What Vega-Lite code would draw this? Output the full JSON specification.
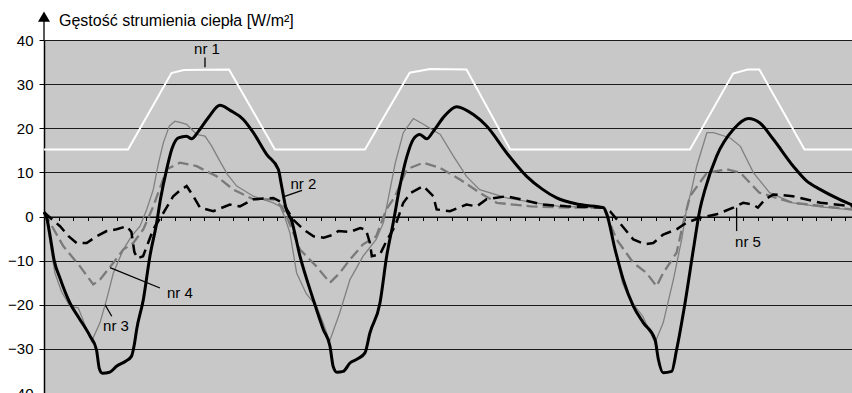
{
  "$schema": "https://vega.github.io/schema/vega-lite/v6.json",
  "width": 808,
  "height": 353,
  "autosize": {"type": "none"},
  "padding": {"left": 44, "top": 40, "right": 0, "bottom": 0},
  "background": "white",
  "config": {
    "view": {"fill": "#c8c8c8", "stroke": null},
    "font": "Liberation Sans",
    "text": {"font": "Liberation Sans", "fontSize": 15, "color": "black"}
  },
  "datasets": {
    "s1": [
      {"t": 0, "v": 15.2}, {"t": 5.77, "v": 15.2}, {"t": 8.75, "v": 32.5}, {"t": 9.6, "v": 33.2}, {"t": 12.7, "v": 33.3}, {"t": 15.85, "v": 15.2},
      {"t": 22.03, "v": 15.2}, {"t": 25.1, "v": 32.6}, {"t": 26.5, "v": 33.4}, {"t": 29.0, "v": 33.3}, {"t": 32.0, "v": 15.2},
      {"t": 44.34, "v": 15.2}, {"t": 47.3, "v": 32.4}, {"t": 48.3, "v": 33.3}, {"t": 49.1, "v": 33.3}, {"t": 52.2, "v": 15.2}, {"t": 55.5, "v": 15.2}
    ],
    "s2": [
      {"t": 0, "v": 1.0}, {"t": 0.2, "v": -0.5}, {"t": 0.4, "v": -4}, {"t": 0.7, "v": -10}, {"t": 1.1, "v": -14}, {"t": 1.78, "v": -19.6}, {"t": 2.4, "v": -23}, {"t": 3.16, "v": -27.1}, {"t": 3.6, "v": -30.2}, {"t": 3.8, "v": -34.5}, {"t": 4.0, "v": -35.5}, {"t": 4.5, "v": -35.3}, {"t": 5.0, "v": -33.9}, {"t": 5.6, "v": -32.8}, {"t": 6.0, "v": -31.7}, {"t": 6.2, "v": -29}, {"t": 6.36, "v": -25.6}, {"t": 6.82, "v": -18.8}, {"t": 7.27, "v": -9.0}, {"t": 7.73, "v": -1.5}, {"t": 8.0, "v": 4}, {"t": 8.42, "v": 10.7}, {"t": 8.8, "v": 15.5}, {"t": 9.22, "v": 17.8}, {"t": 9.79, "v": 18.2}, {"t": 10.13, "v": 17.6}, {"t": 10.6, "v": 19.3}, {"t": 11.3, "v": 22.5}, {"t": 12.08, "v": 25.2}, {"t": 12.8, "v": 24.0}, {"t": 13.68, "v": 22.0}, {"t": 14.37, "v": 19.0}, {"t": 15.28, "v": 14.1}, {"t": 16.08, "v": 10.7}, {"t": 16.31, "v": 6.9}, {"t": 16.6, "v": 2}, {"t": 17.0, "v": -1}, {"t": 17.57, "v": -9.0}, {"t": 18.48, "v": -18.8}, {"t": 19.17, "v": -25.6}, {"t": 19.63, "v": -29.4}, {"t": 19.85, "v": -34}, {"t": 20.1, "v": -35.3}, {"t": 20.54, "v": -35.1}, {"t": 21.0, "v": -33.2}, {"t": 21.5, "v": -32.3}, {"t": 22.03, "v": -30.9}, {"t": 22.37, "v": -26.4}, {"t": 23.06, "v": -19.6}, {"t": 23.52, "v": -9.0}, {"t": 23.97, "v": -1.4}, {"t": 24.43, "v": 6.9}, {"t": 24.9, "v": 13.5}, {"t": 25.35, "v": 17.5}, {"t": 25.8, "v": 18.6}, {"t": 26.27, "v": 17.6}, {"t": 26.72, "v": 19.3}, {"t": 27.5, "v": 22.8}, {"t": 28.32, "v": 24.9}, {"t": 29.47, "v": 23.1}, {"t": 30.38, "v": 20.5}, {"t": 31.76, "v": 14.4}, {"t": 33.13, "v": 9.1}, {"t": 34.2, "v": 6.2}, {"t": 35.19, "v": 4.2}, {"t": 36.8, "v": 2.7}, {"t": 38.4, "v": 2.0}, {"t": 38.6, "v": 0.8}, {"t": 39.2, "v": -7.5}, {"t": 39.76, "v": -14.3}, {"t": 40.45, "v": -20.3}, {"t": 41.14, "v": -24.1}, {"t": 41.94, "v": -27.9}, {"t": 42.17, "v": -32.4}, {"t": 42.5, "v": -35.4}, {"t": 43.08, "v": -35.1}, {"t": 43.42, "v": -30.2}, {"t": 44.0, "v": -19.6}, {"t": 44.57, "v": -7.5}, {"t": 45.02, "v": 1.6}, {"t": 45.37, "v": 6.1}, {"t": 46.17, "v": 13.7}, {"t": 47.31, "v": 19.7}, {"t": 48.34, "v": 22.2}, {"t": 49.14, "v": 21.2}, {"t": 50.06, "v": 17.5}, {"t": 51.43, "v": 11.4}, {"t": 52.3, "v": 8.2}, {"t": 53.3, "v": 6.1}, {"t": 54.6, "v": 3.9}, {"t": 55.5, "v": 2.6}
    ],
    "s3": [
      {"t": 0, "v": 1.0}, {"t": 0.2, "v": -1.4}, {"t": 0.75, "v": -12.8}, {"t": 1.2, "v": -17}, {"t": 1.78, "v": -20.3}, {"t": 2.35, "v": -20.7}, {"t": 2.8, "v": -24.5}, {"t": 3.27, "v": -28.3}, {"t": 3.84, "v": -24.1}, {"t": 4.3, "v": -18.8}, {"t": 4.76, "v": -12.8}, {"t": 5.44, "v": -7.5}, {"t": 6.0, "v": -4.5}, {"t": 6.59, "v": -2.2}, {"t": 7.05, "v": 1.6}, {"t": 7.5, "v": 6.1}, {"t": 7.85, "v": 12}, {"t": 8.19, "v": 16.7}, {"t": 8.6, "v": 20.5}, {"t": 8.99, "v": 21.6}, {"t": 9.4, "v": 21.3}, {"t": 9.79, "v": 20.9}, {"t": 10.48, "v": 18.6}, {"t": 11.05, "v": 18.2}, {"t": 11.5, "v": 16}, {"t": 12.08, "v": 12.5}, {"t": 12.6, "v": 9.5}, {"t": 13.23, "v": 6.9}, {"t": 14.37, "v": 4.6}, {"t": 15.74, "v": 3.1}, {"t": 16.2, "v": 2.3}, {"t": 16.54, "v": -0.3}, {"t": 16.88, "v": -3.7}, {"t": 17.34, "v": -12.8}, {"t": 18.0, "v": -17.5}, {"t": 18.7, "v": -20.3}, {"t": 19.15, "v": -24}, {"t": 19.6, "v": -28.3}, {"t": 20.3, "v": -21.8}, {"t": 21.0, "v": -14.3}, {"t": 21.9, "v": -9.0}, {"t": 22.8, "v": -5.2}, {"t": 23.3, "v": -1.4}, {"t": 23.75, "v": 6.1}, {"t": 24.1, "v": 12}, {"t": 24.66, "v": 19.0}, {"t": 25.35, "v": 22.2}, {"t": 26.04, "v": 20.9}, {"t": 27.2, "v": 18.6}, {"t": 28.1, "v": 13.7}, {"t": 29.0, "v": 9.1}, {"t": 29.9, "v": 6.1}, {"t": 31.76, "v": 4.2}, {"t": 33.5, "v": 3.2}, {"t": 35.4, "v": 2.3}, {"t": 38.4, "v": 2.0}, {"t": 38.7, "v": 0.5}, {"t": 39.3, "v": -9}, {"t": 39.7, "v": -15}, {"t": 40.2, "v": -18.8}, {"t": 41.1, "v": -22.6}, {"t": 41.94, "v": -28.6}, {"t": 42.5, "v": -24.1}, {"t": 43.2, "v": -14.3}, {"t": 43.77, "v": -5.2}, {"t": 44.1, "v": 1.6}, {"t": 44.45, "v": 6.1}, {"t": 44.8, "v": 11.4}, {"t": 45.5, "v": 19.0}, {"t": 45.96, "v": 19.0}, {"t": 47.1, "v": 17.8}, {"t": 47.8, "v": 15.9}, {"t": 48.7, "v": 9.9}, {"t": 49.8, "v": 5.4}, {"t": 51.4, "v": 3.1}, {"t": 53.3, "v": 2.2}, {"t": 55.5, "v": 1.5}
    ],
    "s4": [
      {"t": 0, "v": 1.0}, {"t": 0.41, "v": -1.4}, {"t": 1.32, "v": -6.7}, {"t": 2.47, "v": -11.3}, {"t": 3.38, "v": -15.4}, {"t": 3.84, "v": -14.3}, {"t": 4.76, "v": -10.5}, {"t": 5.44, "v": -7.5}, {"t": 6.13, "v": -6.0}, {"t": 6.82, "v": -2.9}, {"t": 7.5, "v": 2.3}, {"t": 7.8, "v": 5}, {"t": 8.42, "v": 10.7}, {"t": 9.33, "v": 12.2}, {"t": 10.48, "v": 11.4}, {"t": 11.85, "v": 9.1}, {"t": 13.0, "v": 6.1}, {"t": 14.37, "v": 3.9}, {"t": 15.74, "v": 3.9}, {"t": 16.31, "v": 2.3}, {"t": 16.65, "v": 0.1}, {"t": 17.57, "v": -7.5}, {"t": 18.7, "v": -11.3}, {"t": 19.63, "v": -15.0}, {"t": 20.3, "v": -12.8}, {"t": 21.0, "v": -9.75}, {"t": 21.9, "v": -6.3}, {"t": 22.8, "v": -4.5}, {"t": 23.5, "v": 1.6}, {"t": 24.1, "v": 4.6}, {"t": 24.9, "v": 10.7}, {"t": 26.04, "v": 12.2}, {"t": 27.2, "v": 11.0}, {"t": 28.55, "v": 8.4}, {"t": 29.9, "v": 5.4}, {"t": 31.07, "v": 3.1}, {"t": 33.4, "v": 2.3}, {"t": 36.3, "v": 2.0}, {"t": 38.4, "v": 2.0}, {"t": 39.3, "v": -5.2}, {"t": 40.45, "v": -10.5}, {"t": 41.36, "v": -12.8}, {"t": 42.05, "v": -15.8}, {"t": 42.5, "v": -12.8}, {"t": 43.42, "v": -8.2}, {"t": 43.88, "v": -1.4}, {"t": 44.34, "v": 4.6}, {"t": 45.5, "v": 9.9}, {"t": 46.86, "v": 10.7}, {"t": 47.8, "v": 9.9}, {"t": 49.1, "v": 5.4}, {"t": 51.4, "v": 3.1}, {"t": 55.5, "v": 1.6}
    ],
    "s5": [
      {"t": 0, "v": 1.0}, {"t": 0.5, "v": -0.5}, {"t": 1.1, "v": -2.2}, {"t": 1.7, "v": -4.5}, {"t": 2.24, "v": -6.0}, {"t": 2.93, "v": -6.0}, {"t": 3.6, "v": -4.5}, {"t": 4.3, "v": -3.3}, {"t": 4.99, "v": -2.9}, {"t": 5.67, "v": -2.2}, {"t": 6.0, "v": -3.5}, {"t": 6.2, "v": -8}, {"t": 6.4, "v": -9.5}, {"t": 6.8, "v": -9.0}, {"t": 7.5, "v": -2.9}, {"t": 8.19, "v": 0.8}, {"t": 8.87, "v": 4.6}, {"t": 9.3, "v": 5.8}, {"t": 9.79, "v": 6.9}, {"t": 10.25, "v": 4.6}, {"t": 10.71, "v": 2.0}, {"t": 11.62, "v": 1.2}, {"t": 12.76, "v": 2.7}, {"t": 13.45, "v": 2.3}, {"t": 14.37, "v": 3.9}, {"t": 15.74, "v": 4.2}, {"t": 16.4, "v": 3.1}, {"t": 17.1, "v": -0.7}, {"t": 17.8, "v": -2.9}, {"t": 18.5, "v": -4.5}, {"t": 19.2, "v": -4.8}, {"t": 19.8, "v": -4.2}, {"t": 20.2, "v": -3.3}, {"t": 21.0, "v": -3.5}, {"t": 21.7, "v": -2.6}, {"t": 22.1, "v": -3}, {"t": 22.37, "v": -6.0}, {"t": 22.5, "v": -9.0}, {"t": 23.06, "v": -8.6}, {"t": 23.5, "v": -5.6}, {"t": 24.1, "v": -2.2}, {"t": 24.66, "v": 3.1}, {"t": 25.2, "v": 5.4}, {"t": 26.04, "v": 6.9}, {"t": 26.72, "v": 4.6}, {"t": 26.95, "v": 1.6}, {"t": 27.87, "v": 1.2}, {"t": 29.0, "v": 2.7}, {"t": 29.7, "v": 2.3}, {"t": 30.38, "v": 3.9}, {"t": 31.76, "v": 4.6}, {"t": 32.7, "v": 3.9}, {"t": 34.27, "v": 2.7}, {"t": 35.87, "v": 2.3}, {"t": 38.4, "v": 2.0}, {"t": 38.85, "v": 1.2}, {"t": 39.5, "v": -1.4}, {"t": 40.45, "v": -5.2}, {"t": 41.25, "v": -6.3}, {"t": 41.82, "v": -6.0}, {"t": 42.5, "v": -4.1}, {"t": 43.42, "v": -2.9}, {"t": 44.1, "v": -1.4}, {"t": 45.02, "v": -0.3}, {"t": 46.17, "v": 0.5}, {"t": 47.31, "v": 2.0}, {"t": 47.99, "v": 3.1}, {"t": 48.68, "v": 2.7}, {"t": 49.0, "v": 2.0}, {"t": 49.5, "v": 3.9}, {"t": 50.06, "v": 5.0}, {"t": 51.4, "v": 4.6}, {"t": 53.3, "v": 3.1}, {"t": 55.5, "v": 2.3}
    ],
    "leaders": [
      {"t": 11.05, "v": 36.05, "t2": 11.05, "v2": 33.8},
      {"t": 16.47, "v": 4.5, "t2": 17.71, "v2": 5.9},
      {"t": 4.19, "v": -20.0, "t2": 4.65, "v2": -22.6},
      {"t": 4.53, "v": -11.6, "t2": 7.96, "v2": -16.2},
      {"t": 47.54, "v": 2.0, "t2": 47.54, "v2": -3.3},
      {"t": 0, "v": 40, "t2": 0, "v2": 44.5}
    ],
    "labels": [
      {"t": 11.19, "v": 37.9, "label": "nr 1"},
      {"t": 17.8, "v": 7.4, "label": "nr 2"},
      {"t": 4.94, "v": -24.8, "label": "nr 3"},
      {"t": 9.33, "v": -17.3, "label": "nr 4"},
      {"t": 48.32, "v": -5.8, "label": "nr 5"}
    ],
    "arrow": [{"t": 0, "v": 45.3}],
    "ytitle": [{"t": 1.03, "v": 43.15, "label": "Gęstość strumienia ciepła [W/m²]"}]
  },
  "encoding": {
    "x": {
      "field": "t", "type": "quantitative",
      "scale": {"domain": [0, 55.46], "nice": false, "zero": false},
      "axis": {
        "title": null, "orient": "bottom", "offset": -176.5, "labels": false, "grid": false,
        "values": [1,2,3,4,5,6,7,8,9,10,11,12,13,14,15,16,17,18,19,20,21,22,23,24,25,26,27,28,29,30,31,32,33,34,35,36,37,38,39,40,41,42,43,44,45,46,47,48,49,50,51,52,53,54,55],
        "tickSize": 4, "tickColor": "black", "tickWidth": 1, "domainColor": "black", "domainWidth": 1
      }
    },
    "y": {
      "field": "v", "type": "quantitative",
      "scale": {"domain": [-40, 40], "nice": false},
      "axis": {
        "title": null, "values": [-40,-30,-20,-10,0,10,20,30,40],
        "grid": true, "gridColor": "#1a1a1a", "gridWidth": 1,
        "tickSize": 5, "tickColor": "black", "domainColor": "black", "domainWidth": 1.5,
        "labelFontSize": 15, "labelColor": "black", "labelFont": "Liberation Sans", "labelPadding": 6
      }
    }
  },
  "layer": [
    {"data": {"name": "s1"}, "mark": {"type": "line", "color": "white", "strokeWidth": 2}},
    {"data": {"name": "s3"}, "mark": {"type": "line", "color": "#808080", "strokeWidth": 1.3}},
    {"data": {"name": "s4"}, "mark": {"type": "line", "color": "#7a7a7a", "strokeWidth": 2.3, "strokeDash": [11, 5]}},
    {"data": {"name": "s5"}, "mark": {"type": "line", "color": "black", "strokeWidth": 2.5, "strokeDash": [11, 6]}},
    {"data": {"name": "s2"}, "mark": {"type": "line", "color": "black", "strokeWidth": 3, "interpolate": "monotone"}},
    {"data": {"name": "leaders"}, "mark": {"type": "rule", "color": "black", "strokeWidth": 1.3}, "encoding": {"x2": {"field": "t2"}, "y2": {"field": "v2"}}},
    {"data": {"name": "labels"}, "mark": {"type": "text", "fontSize": 15, "align": "center", "baseline": "middle", "color": "black"}, "encoding": {"text": {"field": "label"}}},
    {"data": {"name": "arrow"}, "mark": {"type": "point", "shape": "triangle-up", "filled": true, "color": "black", "size": 144, "opacity": 1}},
    {"data": {"name": "ytitle"}, "mark": {"type": "text", "fontSize": 16, "align": "left", "baseline": "alphabetic", "color": "black"}, "encoding": {"text": {"field": "label"}}}
  ]
}
